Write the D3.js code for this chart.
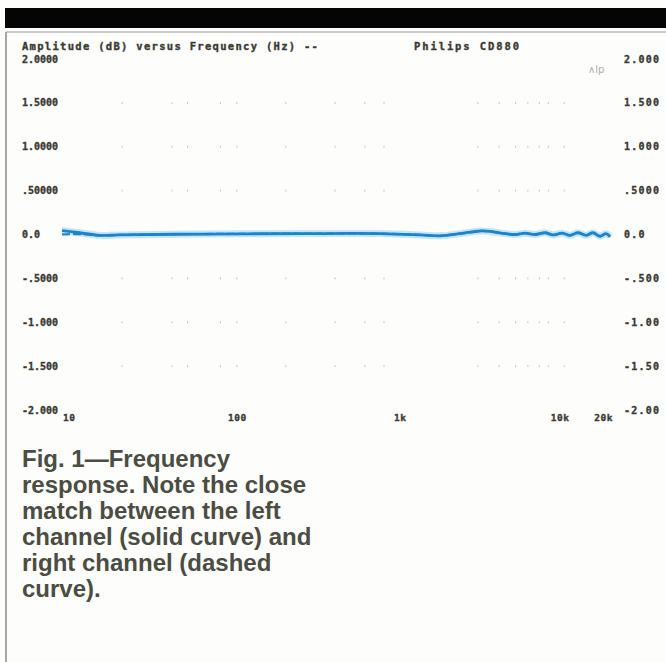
<!DOCTYPE html>
<html>
<head>
<meta charset="utf-8">
<script src="https://cdn.jsdelivr.net/npm/d3@7"></script>
<style>
  html, body { margin: 0; padding: 0; background: #fdfdfb; }
  #chart { width: 666px; height: 662px; }
  .mono { font-family: "DejaVu Sans Mono", monospace; font-weight: bold; fill: #3a3a32;
          stroke: #3a3a32; stroke-width: 0.35px; }
</style>
</head>
<body>
<div id="chart"></div>
<script>
// Datos
const freqs = [10, 12.8, 16.9, 22.3, 68, 272, 824, 1435, 1894, 2500, 3298, 3800, 4665, 5358,
               6156, 7070, 8120, 9080, 10280, 11490, 12830, 14340, 15810, 17420, 18930, 20000];
const leftCh = [0.045, 0.02, -0.01, -0.005, 0.005, 0.01, 0.01, -0.005, -0.015, 0.01, 0.04, 0.035,
                0.01, 0.0, 0.015, 0.0, 0.02, -0.005, 0.015, -0.01, 0.02, -0.01, 0.02, -0.02, 0.01, -0.025];
const rightCh = [0.0, 0.005, -0.01, -0.005, 0.005, 0.01, 0.01, -0.005, -0.015, 0.01, 0.04, 0.035,
                 0.01, 0.0, 0.015, 0.0, 0.02, -0.005, 0.015, -0.01, 0.02, -0.01, 0.02, -0.02, 0.01, -0.025];

const yTicks = [2, 1.5, 1, 0.5, 0, -0.5, -1, -1.5, -2];
const yLabelsLeft = ["2.0000", "1.5000", "1.0000", ".50000", "0.0", "-.5000", "-1.000", "-1.500", "-2.000"];
const yLabelsRight = ["2.000", "1.500", "1.000", ".5000", "0.0", "-.500", "-1.00", "-1.50", "-2.00"];
const xTicks = [10, 100, 1000, 10000, 20000];
const xLabels = ["10", "100", "1k", "10k", "20k"];
const gridFreqs = [23, 46, 57, 90, 113, 223, 442, 667, 870, 3200, 4300, 5400, 6400, 7500, 8500, 10600];

const caption = ["Fig. 1\u2014Frequency", "response. Note the close", "match between the left",
                 "channel (solid curve) and", "right channel (dashed", "curve)."];

const W = 666, H = 662;
const svg = d3.select("#chart").append("svg").attr("width", W).attr("height", H);

svg.append("rect").attr("width", W).attr("height", H).attr("fill", "#fdfdfb");

// Marco superior y lateral
svg.append("rect").attr("x", 5).attr("y", 8).attr("width", W - 5).attr("height", 20).attr("fill", "#050505");
svg.append("line").attr("x1", 6).attr("x2", W).attr("y1", 32).attr("y2", 32)
   .attr("stroke", "#9a9a94").attr("stroke-width", 1);
svg.append("line").attr("x1", 6).attr("x2", 6).attr("y1", 32).attr("y2", H)
   .attr("stroke", "#8a8a84").attr("stroke-width", 1.5);

const x = d3.scaleLog().domain([10, 20000]).range([62, 610]);
const y = d3.scaleLinear().domain([-2, 2]).range([410, 59]);

// Titulo
svg.append("text").attr("class", "mono").attr("x", 22).attr("y", 50)
   .style("font-size", "10.5px").style("letter-spacing", "1.3px")
   .text("Amplitude (dB) versus Frequency (Hz) --");
svg.append("text").attr("class", "mono").attr("x", 414).attr("y", 50)
   .style("font-size", "10.5px").style("letter-spacing", "1.9px")
   .text("Philips CD880");

// Puntos de la reticula
const gridRows = yTicks.filter(v => v !== 0 && Math.abs(v) !== 2);
gridRows.forEach(v => {
    svg.selectAll(null).data(gridFreqs).enter().append("rect")
       .attr("x", d => x(d) - 0.5).attr("y", y(v) - 1).attr("width", 1).attr("height", 2)
       .attr("fill", "#c4c4be");
});

// Etiquetas eje Y
svg.selectAll(".yl").data(yTicks).enter().append("text")
   .attr("class", "mono yl").attr("x", 22).attr("y", d => y(d) + 3.5)
   .style("font-size", "10px").style("letter-spacing", "0px")
   .text((d, i) => yLabelsLeft[i]);
svg.selectAll(".yr").data(yTicks).enter().append("text")
   .attr("class", "mono yr").attr("x", 624).attr("y", d => y(d) + 3.5)
   .style("font-size", "10px").style("letter-spacing", "1.2px")
   .text((d, i) => yLabelsRight[i]);

// Etiquetas eje X
svg.selectAll(".xl").data(xTicks).enter().append("text")
   .attr("class", "mono xl")
   .attr("x", (d, i) => i < 3 ? x(d) + (i === 0 ? 1 : 0) : (i === 3 ? x(d) : x(d) + 3))
   .attr("y", 421)
   .attr("text-anchor", (d, i) => i < 3 ? "start" : (i === 3 ? "middle" : "end"))
   .style("font-size", "9.5px").style("letter-spacing", "0.5px")
   .text((d, i) => xLabels[i]);

// Curvas
const line = d3.line().x(d => x(d[0])).y(d => y(d[1])).curve(d3.curveCatmullRom);
const leftData = freqs.map((f, i) => [f, leftCh[i]]);
const rightData = freqs.map((f, i) => [f, rightCh[i]]);

svg.append("path").attr("d", line(leftData)).attr("fill", "none")
   .attr("stroke", "#b9def4").attr("stroke-width", 7).attr("stroke-opacity", 0.8);
svg.append("path").attr("d", line(rightData)).attr("fill", "none")
   .attr("stroke", "#1f86cf").attr("stroke-width", 2.2).attr("stroke-dasharray", "8,3");
svg.append("path").attr("d", line(leftData)).attr("fill", "none")
   .attr("stroke", "#1a84cc").attr("stroke-width", 2.8);

// Marca manuscrita
svg.append("text").attr("x", 588).attr("y", 73).attr("fill", "#b0b0aa")
   .style("font-family", "DejaVu Sans").style("font-size", "10px").text("\u2227lp");

// Pie de figura
svg.selectAll(".cap").data(caption).enter().append("text")
   .attr("class", "cap").attr("x", 22).attr("y", (d, i) => 467 + i * 26)
   .style("font-family", "Liberation Sans, Arial, sans-serif").style("font-weight", "bold")
   .style("font-size", "24px").attr("fill", "#4b4d43")
   .text(d => d);
</script>
</body>
</html>
